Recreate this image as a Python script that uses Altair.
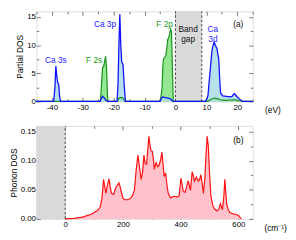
import altair as alt
import pandas as pd

# ---------------- data ----------------
# Panel (a): partial electronic DOS, energy in eV
ca_e = [-45, -39.4, -39.0, -38.7, -38.4, -38.1, -37.8, -37.5, -37.2,
        -24.4, -24.0, -23.6, -23.0, -22.5, -22.0,
        -18.9, -18.6, -18.3, -18.0, -17.7, -17.4, -17.0, -16.6, -16.2,
        -5.0, -4.6, -4.2, -3.5, -2.5, -1.8, -1.2, -0.8,
        9.7, 10.1, 10.5, 10.9, 11.3, 11.8, 12.2, 12.5, 12.9, 13.4, 14.0, 14.3, 14.6, 15.3, 16.5,
        17.5, 18.3, 19.0, 19.5, 20.0, 20.6, 21.6, 25]
ca_dos = [0, 0, 2.5, 6.3, 4.5, 3.3, 3.1, 1.0, 0,
          0, 0.5, 0.9, 0.6, 0.2, 0,
          0, 3.0, 10.0, 15.5, 10.0, 7.0, 6.6, 3.0, 0,
          0, 0.5, 0.8, 0.7, 0.6, 0.5, 0.2, 0,
          0, 0.4, 1.0, 3.5, 6.0, 9.0, 10.0, 10.5, 10.0, 9.4, 7.5, 4.0, 1.5, 1.0, 0.9,
          0.8, 0.9, 1.4, 1.1, 0.8, 0.5, 0, 0]

f_e = [-45, -24.3, -24.0, -23.6, -23.2, -22.9, -22.6, -22.3, -22.0, -21.8,
       -18.8, -18.3, -17.5, -16.8, -16.4,
       -5.2, -4.8, -4.4, -4.1, -3.9, -3.5, -3.1, -2.8, -2.5, -2.2, -1.9, -1.6, -1.3, -1.0, -0.7,
       10.5, 11.5, 12.5, 13.5, 14.5, 16.0, 19.0, 21.0, 22.0, 25]
f_dos = [0, 0, 2.5, 6.0, 6.3, 7.2, 8.0, 6.0, 1.0, 0,
         0, 0.6, 0.7, 0.5, 0,
         0, 0.5, 2.0, 6.0, 7.5, 7.8, 8.2, 9.5, 11.0, 11.3, 12.0, 12.8, 12.4, 6.0, 0,
         0, 0.4, 0.6, 0.5, 0.3, 0.2, 0.3, 0.1, 0, 0]

gap_lo = [0.0]
gap_hi = [8.5]

# Panel (b): phonon DOS, frequency in cm^-1
ph_w = [0, 30, 60, 90, 110, 121, 127, 133, 137, 141, 147, 152, 156, 160, 168, 175, 181, 186,
        190, 195, 200, 205, 215, 226, 233, 240, 246, 252, 257, 263, 268, 273, 277, 282, 287,
        290, 294, 298, 302, 306, 309, 312, 315, 320, 324, 330, 335, 339, 343, 348, 352, 357,
        365, 376, 390, 395, 401, 405, 409, 416, 421, 426, 430, 434, 440, 444, 448, 455, 461,
        466, 470, 475, 479, 484, 488, 492, 496, 500, 505, 512, 518, 525, 532, 538, 542, 545,
        550, 553, 556, 560, 566, 571, 580, 591, 600, 605, 610]
ph_dos = [0.000, 0.001, 0.003, 0.008, 0.014, 0.020, 0.035, 0.068, 0.055, 0.044, 0.060, 0.069,
          0.055, 0.044, 0.042, 0.054, 0.058, 0.062, 0.056, 0.045, 0.036, 0.033, 0.033, 0.035,
          0.040, 0.050, 0.085, 0.110, 0.090, 0.068, 0.080, 0.110, 0.095, 0.094, 0.125, 0.142,
          0.125, 0.117, 0.116, 0.100, 0.085, 0.092, 0.097, 0.090, 0.091, 0.100, 0.115, 0.095,
          0.073, 0.079, 0.060, 0.044, 0.036, 0.039, 0.038, 0.040, 0.070, 0.060, 0.047, 0.046,
          0.055, 0.066, 0.058, 0.049, 0.081, 0.075, 0.065, 0.072, 0.065, 0.068, 0.076, 0.060,
          0.044, 0.070, 0.110, 0.142, 0.125, 0.080, 0.039, 0.022, 0.017, 0.014, 0.016, 0.026,
          0.020, 0.016, 0.040, 0.068, 0.050, 0.024, 0.015, 0.011, 0.009, 0.008, 0.006, 0.003,
          0.000]
ph_lo = [-100]
ph_hi = [0]

# labels
a_text = ["Ca 3s", "F 2s", "Ca 3p", "F 2p", "Band\ngap", "Ca\n3d", "(a)"]
a_x = [-38.7, -26.3, -22.8, -3.5, 4.1, 12.1, 20.3]
a_y = [7.3, 7.3, 13.75, 13.75, 12.9, 12.9, 13.75]
a_col = ["#2222ff", "#1a9a1a", "#2222ff", "#1a9a1a", "#111111", "#2222ff", "#111111"]

# ticks
a_xmaj = [-40, -30, -20, -10, 0, 10, 20]
a_xmin = [-45, -35, -25, -15, -5, 5, 15, 25]
a_ymaj = [0, 5, 10, 15]
a_ymin = [2.5, 7.5, 12.5]
b_xmaj = [0, 200, 400, 600]
b_xmin = [-100, 100, 300, 500]
b_ymaj = [0.0, 0.05, 0.10, 0.15]
b_ymin = [0.025, 0.075, 0.125]

FONT = "Liberation Sans"
TICK = "#555555"
W, HA, HB = 221, 92, 95

BLUE, BLUE_F = "#1010ff", "#a9dbe6"
GREEN, GREEN_F = "#16931a", "#8fe58a"
RED, RED_F = "#ff1010", "#ffc2cc"


def axis_layers(xs, ys, xmaj, xmin, ymaj, ymin, yfmt, ytitle):
    layers = []
    common = dict(domain=False, grid=False, tickColor=TICK, tickWidth=0.8,
                  labelFont=FONT, labelFontSize=8, labelColor="black", title=None)
    x0 = xs.domain[0]
    y0 = ys.domain[0]

    def xl(vals, **kw):
        df = pd.DataFrame({"v": vals, "z": [y0] * len(vals)})
        ax = dict(common)
        ax.update(kw)
        return alt.Chart(df).mark_point(opacity=0).encode(
            x=alt.X("v:Q", scale=xs, axis=alt.Axis(values=vals, **ax)),
            y=alt.Y("z:Q", scale=ys, axis=None))

    def yl(vals, **kw):
        df = pd.DataFrame({"v": vals, "z": [x0] * len(vals)})
        ax = dict(common)
        ax.update(kw)
        return alt.Chart(df).mark_point(opacity=0).encode(
            y=alt.Y("v:Q", scale=ys, axis=alt.Axis(values=vals, **ax)),
            x=alt.X("z:Q", scale=xs, axis=None))

    big = alt.ExprRef("-4")
    small = alt.ExprRef("-2.5")
    layers.append(xl(xmaj, orient="bottom", tickSize=big, labelPadding=6,
                     labelExpr="replace(format(datum.value, 'd'), '\u2212', '-')"))
    layers.append(xl(xmin, orient="bottom", tickSize=small, labels=False))
    layers.append(xl(xmaj, orient="top", tickSize=big, labels=False))
    layers.append(xl(xmin, orient="top", tickSize=small, labels=False))
    layers.append(yl(ymaj, orient="left", tickSize=big, labelPadding=5, format=yfmt,
                     title=ytitle, titleFont=FONT, titleFontSize=8.5,
                     titleFontWeight="normal", titleColor="black", titlePadding=2))
    layers.append(yl(ymin, orient="left", tickSize=small, labels=False))
    layers.append(yl(ymaj, orient="right", tickSize=big, labels=False))
    layers.append(yl(ymin, orient="right", tickSize=small, labels=False))
    return layers


# ---------------- panel (a) ----------------
xa = alt.Scale(domain=[-45, 25], nice=False, zero=False)
ya = alt.Scale(domain=[0, 16], nice=False, zero=False)

ca_df = pd.DataFrame({"e": ca_e, "d": ca_dos})
f_df = pd.DataFrame({"e": f_e, "d": f_dos})
gap_df = pd.DataFrame({"lo": gap_lo, "hi": gap_hi, "b": [0.0], "t": [16.0]})
gap_lines = pd.DataFrame({"v": gap_lo + gap_hi, "b": [0.0, 0.0], "t": [16.0, 16.0]})
lab_a = pd.DataFrame({"t": a_text, "x": a_x, "y": a_y, "c": a_col})

ex = alt.X("e:Q", scale=xa, axis=None)
dy_ = alt.Y("d:Q", scale=ya, axis=None)

gap_rect = alt.Chart(gap_df).mark_rect(color="#d9d9d9").encode(
    x=alt.X("lo:Q", scale=xa, axis=None), x2="hi:Q",
    y=alt.Y("b:Q", scale=ya, axis=None), y2="t:Q")
gap_rule = alt.Chart(gap_lines).mark_rule(color="#333333", strokeWidth=0.9,
                                          strokeDash=[2.5, 2]).encode(
    x=alt.X("v:Q", scale=xa, axis=None),
    y=alt.Y("b:Q", scale=ya, axis=None), y2="t:Q")
f_area = alt.Chart(f_df).mark_area(color=GREEN_F, opacity=0.95).encode(x=ex, y=dy_)
ca_area = alt.Chart(ca_df).mark_area(color=BLUE_F, opacity=0.85).encode(x=ex, y=dy_)
f_line = alt.Chart(f_df).mark_line(color=GREEN, strokeWidth=1.2).encode(x=ex, y=dy_)
ca_line = alt.Chart(ca_df).mark_line(color=BLUE, strokeWidth=1.3).encode(x=ex, y=dy_)
text_a = alt.Chart(lab_a).mark_text(font=FONT, fontSize=8.5, lineBreak="\n",
                                    lineHeight=10).encode(
    x=alt.X("x:Q", scale=xa, axis=None), y=alt.Y("y:Q", scale=ya, axis=None),
    text="t:N", color=alt.Color("c:N", scale=None))
unit_a = alt.Chart(pd.DataFrame({"x": [31.5], "y": [0.0], "t": ["(eV)"]})).mark_text(
    font=FONT, fontSize=8.5, dy=9, color="black").encode(
    x=alt.X("x:Q", scale=xa, axis=None), y=alt.Y("y:Q", scale=ya, axis=None), text="t:N")

panel_a = alt.layer(
    gap_rect, gap_rule, f_area, ca_area, f_line, ca_line, text_a, unit_a,
    *axis_layers(xa, ya, a_xmaj, a_xmin, a_ymaj, a_ymin, "d", "Partial DOS")
).resolve_axis(x="independent", y="independent").properties(width=W, height=HA)

# ---------------- panel (b) ----------------
xb = alt.Scale(domain=[-100, 650], nice=False, zero=False)
yb = alt.Scale(domain=[0, 0.16], nice=False, zero=False)

ph_df = pd.DataFrame({"w": ph_w, "d": ph_dos})
shade_df = pd.DataFrame({"lo": ph_lo, "hi": ph_hi, "b": [0.0], "t": [0.16]})
wx = alt.X("w:Q", scale=xb, axis=None)
wy = alt.Y("d:Q", scale=yb, axis=None)

shade = alt.Chart(shade_df).mark_rect(color="#d9d9d9").encode(
    x=alt.X("lo:Q", scale=xb, axis=None), x2="hi:Q",
    y=alt.Y("b:Q", scale=yb, axis=None), y2="t:Q")
zero_rule = alt.Chart(pd.DataFrame({"v": ph_hi, "b": [0.0], "t": [0.16]})).mark_rule(
    color="#333333", strokeWidth=0.9, strokeDash=[2.5, 2]).encode(
    x=alt.X("v:Q", scale=xb, axis=None),
    y=alt.Y("b:Q", scale=yb, axis=None), y2="t:Q")
ph_area = alt.Chart(ph_df).mark_area(color=RED_F).encode(x=wx, y=wy)
ph_line = alt.Chart(ph_df).mark_line(color=RED, strokeWidth=1.2).encode(x=wx, y=wy)
text_b = alt.Chart(pd.DataFrame({"x": [600], "y": [0.136], "t": ["(b)"]})).mark_text(
    font=FONT, fontSize=8.5, color="black").encode(
    x=alt.X("x:Q", scale=xb, axis=None), y=alt.Y("y:Q", scale=yb, axis=None), text="t:N")
unit_b = alt.Chart(pd.DataFrame({"x": [768.0], "y": [0.0], "t": ["(cm\u207b\u00b9)"]})).mark_text(
    font=FONT, fontSize=8.5, dy=9, align="right", color="black").encode(
    x=alt.X("x:Q", scale=xb, axis=None), y=alt.Y("y:Q", scale=yb, axis=None), text="t:N")

panel_b = alt.layer(
    shade, zero_rule, ph_area, ph_line, text_b, unit_b,
    *axis_layers(xb, yb, b_xmaj, b_xmin, b_ymaj, b_ymin, ".2f", "Phonon DOS")
).resolve_axis(x="independent", y="independent").properties(width=W, height=HB)

chart = alt.vconcat(panel_a, panel_b, spacing=10).properties(
    padding=0
).configure_view(stroke="#444444", strokeWidth=1).configure(background="white")

chart.save("out.html", embed_options={"renderer": "svg", "actions": False})
